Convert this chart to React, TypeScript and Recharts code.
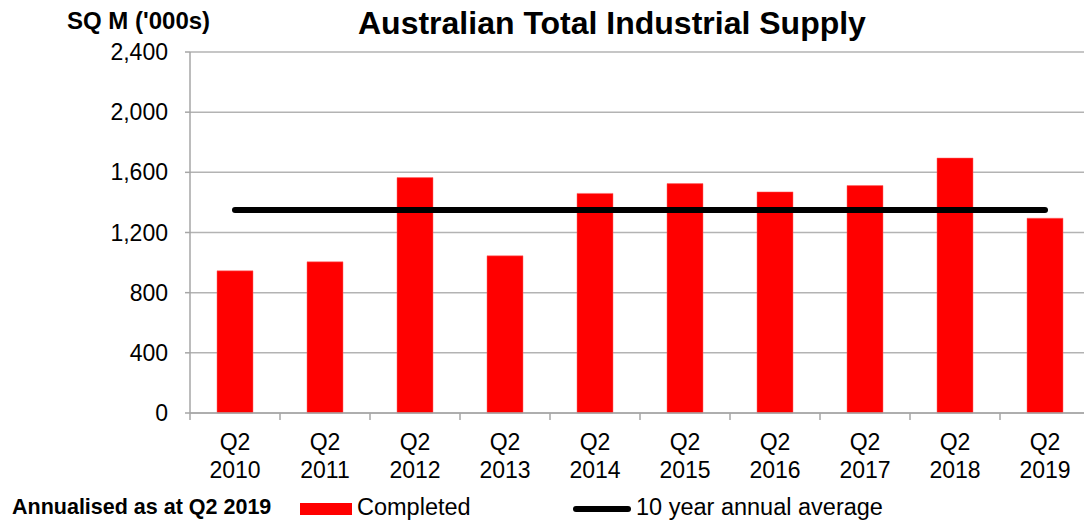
import React from "react";
import { ComposedChart, Bar, Line, XAxis, YAxis, CartesianGrid } from "recharts";

const periods = ["Q2 2010", "Q2 2011", "Q2 2012", "Q2 2013", "Q2 2014", "Q2 2015", "Q2 2016", "Q2 2017", "Q2 2018", "Q2 2019"];
const completed = [945, 1005, 1565, 1045, 1460, 1525, 1470, 1512, 1695, 1295];
const tenYearAverage = [1350, 1350, 1350, 1350, 1350, 1350, 1350, 1350, 1350, 1350];
const yTicks = [0, 400, 800, 1200, 1600, 2000, 2400];

const data = periods.map((name, i) => ({
    name,
    completed: completed[i],
    average: tenYearAverage[i]
}));

const FONT = "'Liberation Sans', Arial, sans-serif";
const AXIS_GREY = "#a6a6a6";

// two-line category label, with the tick mark on the left band edge
function PeriodTick(props: any) {
    const { x, y, payload } = props;
    const [q, year] = String(payload.value).split(" ");
    return (
        <g>
            <line x1={x - 45} y1={y} x2={x - 45} y2={y + 7} stroke={AXIS_GREY} strokeWidth={1.5} />
            <text x={x} y={y + 37} textAnchor="middle" fontSize={23} fontFamily={FONT} fill="#000">
                {q}
            </text>
            <text x={x} y={y + 65} textAnchor="middle" fontSize={23} fontFamily={FONT} fill="#000">
                {year}
            </text>
        </g>
    );
}

export default function App() {
    return (
        <div
            style={{
                position: "absolute",
                left: 0,
                top: 0,
                width: 1084,
                height: 522,
                overflow: "hidden",
                background: "#fff",
                fontFamily: FONT
            }}
        >
            <div style={{ position: "absolute", left: 67, top: 7, fontSize: 24, fontWeight: "bold", whiteSpace: "nowrap" }}>
                SQ M ('000s)
            </div>
            <div style={{ position: "absolute", left: 358, top: 5, fontSize: 32, fontWeight: "bold", whiteSpace: "nowrap" }}>
                Australian Total Industrial Supply
            </div>

            <div style={{ position: "absolute", left: 0, top: 0 }}>
                <ComposedChart
                    width={1100}
                    height={522}
                    data={data}
                    margin={{ top: 52, right: 10, bottom: 29, left: 0 }}
                >
                    <CartesianGrid vertical={false} stroke="#b3b3b3" strokeWidth={1.5} />
                    <XAxis
                        dataKey="name"
                        height={80}
                        interval={0}
                        tickLine={false}
                        tickSize={0}
                        tickMargin={0}
                        stroke={AXIS_GREY}
                        strokeWidth={1.5}
                        tick={<PeriodTick />}
                    />
                    <YAxis
                        width={190}
                        domain={[0, 2400]}
                        ticks={yTicks}
                        interval={0}
                        tickSize={5}
                        tickMargin={17}
                        stroke={AXIS_GREY}
                        strokeWidth={1.5}
                        tick={{ fill: "#000", fontSize: 23, fontFamily: FONT }}
                        tickFormatter={(v: number) => v.toLocaleString("en-US")}
                    />
                    <Bar
                        dataKey="completed"
                        fill="#ff0000"
                        stroke="#ff6666"
                        strokeWidth={0.5}
                        barSize={36}
                        isAnimationActive={false}
                    />
                    <Line
                        dataKey="average"
                        stroke="#000"
                        strokeWidth={6}
                        strokeLinecap="round"
                        dot={false}
                        activeDot={false}
                        isAnimationActive={false}
                    />
                </ComposedChart>
            </div>

            <div style={{ position: "absolute", left: 12, top: 495, fontSize: 21.5, fontWeight: "bold", whiteSpace: "nowrap" }}>
                Annualised as at Q2 2019
            </div>
            <div style={{ position: "absolute", left: 300, top: 503, width: 52, height: 12, background: "#ff0000" }} />
            <div style={{ position: "absolute", left: 357, top: 494, fontSize: 23.5, whiteSpace: "nowrap" }}>Completed</div>
            <div
                style={{
                    position: "absolute",
                    left: 573,
                    top: 506,
                    width: 58,
                    height: 6,
                    borderRadius: 3,
                    background: "#000"
                }}
            />
            <div style={{ position: "absolute", left: 636, top: 494, fontSize: 23.5, whiteSpace: "nowrap" }}>
                10 year annual average
            </div>
        </div>
    );
}
